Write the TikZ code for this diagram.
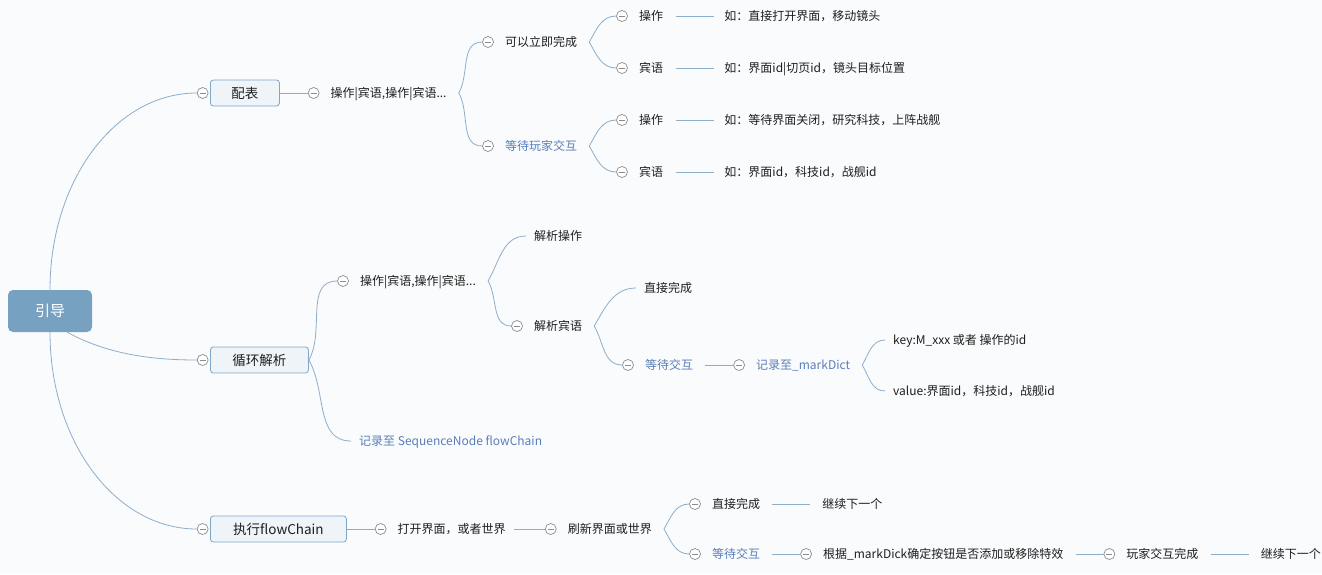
\documentclass[tikz,border=0pt]{standalone}
\usepackage{fontspec}
\setmainfont{Noto Sans CJK SC}
\usetikzlibrary{positioning}

\definecolor{bgc}{HTML}{FAFBFC}
\definecolor{linkc}{HTML}{8DAECB}
\definecolor{foldc}{HTML}{8C8C8C}
\definecolor{bluetext}{HTML}{5A7EBA}
\definecolor{rootfill}{HTML}{76A1C1}
\definecolor{topicfill}{HTML}{EEF4F8}
\definecolor{topicdraw}{HTML}{7FA6C8}
\definecolor{textc}{HTML}{1E1E1E}
\newcommand{\foldbar}{\textcolor{foldc}{\rule{6pt}{0.7pt}}}

\begin{document}
\begin{tikzpicture}[x=1pt, y=1pt, node distance=11pt,
    root/.style={rectangle, rounded corners=5pt, fill=rootfill, text=white, minimum width=84pt, minimum height=42pt, font=\fontsize{15}{18}\selectfont},
    topic/.style={rectangle, rounded corners=3pt, draw=topicdraw, fill=topicfill, line width=0.8pt, minimum height=26pt, inner xsep=0pt, text=textc, font=\fontsize{13.5}{16}\selectfont},
    sub/.style={inner sep=0pt, text height=10.5pt, text depth=1.5pt, text=textc, font=\fontsize{12}{14}\selectfont},
    bsub/.style={sub, text=bluetext},
    fold/.style={circle, draw=foldc, fill=white, line width=0.7pt, minimum size=11pt, inner sep=0pt},
    link/.style={draw=linkc, line width=0.8pt},
    forkup/.style={out=60, in=180},
    forkdn/.style={out=-60, in=180}]
    \fill[bgc] (0,0) rectangle (1322,-574);
    \useasboundingbox (0,0) rectangle (1322,-574);

    \node[root] (root) at (50,-311) {引导};
    \node[topic, minimum width=69pt, anchor=west] (t_1) at (210,-93) {配表};
    \node[topic, minimum width=98pt, anchor=west] (t_2) at (210,-360) {循环解析};
    \node[topic, minimum width=136pt, anchor=west] (t_3) at (210,-529) {执行flowChain};
    \node[fold, left=1.5pt of t_1] (f_1) {\foldbar};
    \node[fold, left=1.5pt of t_2] (f_2) {\foldbar};
    \node[fold, left=1.5pt of t_3] (f_3) {\foldbar};

    \draw[link] (root.north) .. controls +(0,110) and +(-81,0) .. (f_1.west);
    \draw[link] ([xshift=-25pt]root.south east) .. controls +(40,-22) and +(-45,0) .. (f_2.west);
    \draw[link] (root.south) .. controls +(0,-110) and +(-81,0) .. (f_3.west);

    % 配表
    \node[fold, right=28pt of t_1] (f_11) {\foldbar};
    \node[sub, right=of f_11] (s_11) {操作|宾语,操作|宾语...};
    \node[fold] (f_111) at (488,-42) {\foldbar};
    \node[sub, right=of f_111] (s_111) {可以立即完成};
    \node[fold] (f_112) at (488,-146) {\foldbar};
    \node[bsub, right=of f_112] (s_112) {等待玩家交互};
    \node[fold] (f_1111) at (622,-16) {\foldbar};
    \node[sub, right=of f_1111] (s_1111) {操作};
    \node[sub, right=61pt of s_1111] (l_1111) {如：直接打开界面，移动镜头};
    \node[fold] (f_1112) at (622,-68) {\foldbar};
    \node[sub, right=of f_1112] (s_1112) {宾语};
    \node[sub, right=61pt of s_1112] (l_1112) {如：界面id|切页id，镜头目标位置};
    \node[fold] (f_1121) at (622,-120) {\foldbar};
    \node[sub, right=of f_1121] (s_1121) {操作};
    \node[sub, right=61pt of s_1121] (l_1121) {如：等待界面关闭，研究科技，上阵战舰};
    \node[fold] (f_1122) at (622,-172) {\foldbar};
    \node[sub, right=of f_1122] (s_1122) {宾语};
    \node[sub, right=61pt of s_1122] (l_1122) {如：界面id，科技id，战舰id};
    \path[link]
    (t_1) edge (f_11)
    ([xshift=12pt]s_11.east) edge[forkup] (f_111.west)
    ([xshift=12pt]s_11.east) edge[forkdn] (f_112.west)
    ([xshift=12pt]s_111.east) edge[forkup] (f_1111.west)
    ([xshift=12pt]s_111.east) edge[forkdn] (f_1112.west)
    ([xshift=12pt]s_112.east) edge[forkup] (f_1121.west)
    ([xshift=12pt]s_112.east) edge[forkdn] (f_1122.west)
    ([xshift=13pt]s_1111.east) edge ([xshift=-10pt]l_1111.west)
    ([xshift=13pt]s_1112.east) edge ([xshift=-10pt]l_1112.west)
    ([xshift=13pt]s_1121.east) edge ([xshift=-10pt]l_1121.west)
    ([xshift=13pt]s_1122.east) edge ([xshift=-10pt]l_1122.west);

    % 循环解析
    \node[fold] (f_21) at (343,-281) {\foldbar};
    \node[sub, right=of f_21] (s_21) {操作|宾语,操作|宾语...};
    \node[bsub, anchor=west] (s_22) at (359,-441) {记录至 SequenceNode flowChain};
    \node[sub, anchor=west] (s_211) at (534,-236) {解析操作};
    \node[fold] (f_212) at (517,-326) {\foldbar};
    \node[sub, right=of f_212] (s_212) {解析宾语};
    \node[sub, anchor=west] (s_2121) at (644,-288) {直接完成};
    \node[fold] (f_2122) at (628,-365) {\foldbar};
    \node[bsub, right=of f_2122] (s_2122) {等待交互};
    \node[fold, right=40pt of s_2122] (f_21221) {\foldbar};
    \node[bsub, right=of f_21221] (s_21221) {记录至\_markDict};
    \node[sub, anchor=west] (s_212211) at (893,-340) {key:M\_xxx 或者 操作的id};
    \node[sub, anchor=west] (s_212212) at (893,-391) {value:界面id，科技id，战舰id};
    \path[link]
    (t_2.east) edge[forkup] (f_21.west)
    (t_2.east) edge[forkdn] ([xshift=-8pt]s_22.west)
    ([xshift=12pt]s_21.east) edge[forkup] ([xshift=-8pt]s_211.west)
    ([xshift=12pt]s_21.east) edge[forkdn] (f_212.west)
    ([xshift=12pt]s_212.east) edge[forkup] ([xshift=-8pt]s_2121.west)
    ([xshift=12pt]s_212.east) edge[forkdn] (f_2122.west)
    ([xshift=12pt]s_2122.east) edge (f_21221.west)
    ([xshift=12pt]s_21221.east) edge[forkup] ([xshift=-8pt]s_212211.west)
    ([xshift=12pt]s_21221.east) edge[forkdn] ([xshift=-8pt]s_212212.west);

    % 执行flowChain
    \node[fold, right=28pt of t_3] (f_31) {\foldbar};
    \node[sub, right=of f_31] (s_31) {打开界面，或者世界};
    \node[fold, right=39pt of s_31] (f_32) {\foldbar};
    \node[sub, right=of f_32] (s_32) {刷新界面或世界};
    \node[fold] (f_321) at (695,-504) {\foldbar};
    \node[sub, right=of f_321] (s_321) {直接完成};
    \node[sub, right=62pt of s_321] (l_321) {继续下一个};
    \node[fold] (f_322) at (695,-554) {\foldbar};
    \node[bsub, right=of f_322] (s_322) {等待交互};
    \node[fold, right=40pt of s_322] (f_3221) {\foldbar};
    \node[sub, right=of f_3221] (s_3221) {根据\_markDick确定按钮是否添加或移除特效};
    \node[fold, right=40pt of s_3221] (f_32211) {\foldbar};
    \node[sub, right=of f_32211] (s_32211) {玩家交互完成};
    \node[sub, right=62pt of s_32211] (l_32211) {继续下一个};
    \path[link]
    (t_3) edge (f_31)
    ([xshift=8pt]s_31.east) edge (f_32.west)
    ([xshift=12pt]s_32.east) edge[forkup] (f_321.west)
    ([xshift=12pt]s_32.east) edge[forkdn] (f_322.west)
    ([xshift=12pt]s_321.east) edge ([xshift=-12pt]l_321.west)
    ([xshift=12pt]s_322.east) edge (f_3221.west)
    ([xshift=12pt]s_3221.east) edge (f_32211.west)
    ([xshift=12pt]s_32211.east) edge ([xshift=-12pt]l_32211.west);
\end{tikzpicture}
\end{document}
